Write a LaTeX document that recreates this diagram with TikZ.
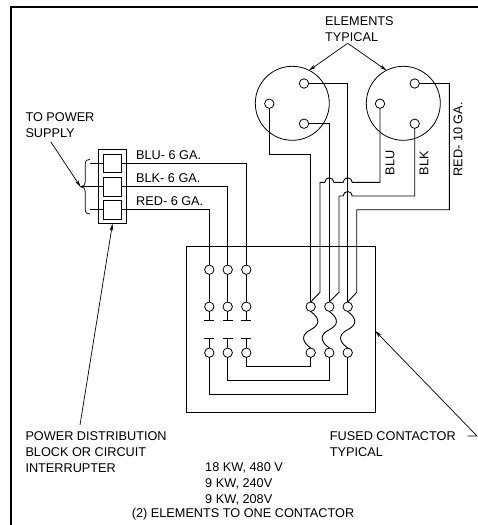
\documentclass[tikz,border=0pt]{standalone}
\usepackage{fontspec}
\setmainfont{Liberation Sans}
\usetikzlibrary{arrows.meta}

\begin{document}
\begin{tikzpicture}[
  x=1pt, y=-1pt,
  wire/.style={line width=0.9pt, line join=miter},
  term/.style={circle, draw, line width=0.8pt, inner sep=0pt, outer sep=0pt, minimum size=9.4pt},
  element/.style={circle, draw, line width=0.8pt, inner sep=0pt, outer sep=0pt, minimum size=74pt},
  box/.style={rectangle, draw, line width=0.9pt, inner sep=0pt, outer sep=0pt},
  label/.style={inner sep=0pt, anchor=west, align=left, font=\fontsize{12.7}{16}\selectfont},
  pointer/.style={line width=0.7pt, -{Stealth[length=7pt,width=3.6pt]}}
  ]

  \useasboundingbox (0,0) rectangle (478,525);
  \draw[line width=1.2pt] (11,525) -- (11,7) -- (478,7);

  % elements
  \node[element] (elemA) at (292.3,103.3) {};
  \node[element] (elemB) at (403.3,103.3) {};
  \node[term] (aTop) at (304,83.5) {};
  \node[term] (aLeft) at (269.3,103.7) {};
  \node[term] (aBot) at (304,123.7) {};
  \node[term] (bTop) at (414.7,83.5) {};
  \node[term] (bLeft) at (380,103.7) {};
  \node[term] (bBot) at (414.7,123.7) {};

  % contactor
  \node[box, minimum width=189pt, minimum height=165.6pt] (contactor) at (280.8,329.5) {};
  \foreach \n/\x in {a/209.3,b/227.7,c/246.3} {
    \node[term] (\n1) at (\x,269.7) {};
    \node[term] (\n2) at (\x,306.7) {};
    \node[term] (\n3) at (\x,352.7) {};
    \coordinate (\n bar) at (\x,320.3);
    \coordinate (\n gap) at (\x,338.7);
    \draw[wire] (\n1) -- (\n2);
    \draw[wire] (\n2) -- (\n bar);
    \draw[wire] (\n3) -- (\n gap);
    \draw[wire] (\x-5,320.3) -- (\x+5,320.3);
    \draw[wire] (\x-5,338.7) -- (\x+5,338.7);
  }
  \foreach \n/\x in {1/310.7,2/329.3,3/347.7} {
    \node[term] (top\n) at (\x,306.7) {};
    \node[term] (low\n) at (\x,352.7) {};
    \draw[wire] (top\n.south) .. controls (\x+10,319) and (\x+9,325) .. (\x,329.7)
      .. controls (\x-9,334) and (\x-10,341) .. (low\n.north);
  }

  % power block
  \node[box, minimum width=28.4pt, minimum height=74.4pt] (block) at (112.5,186.5) {};
  \node[box, minimum size=18.5pt] (bluSq) at (112.5,163.3) {};
  \node[box, minimum size=18.5pt] (blkSq) at (112.5,186.7) {};
  \node[box, minimum size=18.5pt] (redSq) at (112.5,209.7) {};

  % wires from the block
  \draw[wire] (bluSq.east) -| (c1);
  \draw[wire] (blkSq.east) -| (b1);
  \draw[wire] (redSq.east) -| (a1);
  \draw[wire] (c3) -- (246.3,366.7) -| (low1);
  \draw[wire] (b3) -- (227.7,380.3) -| (low2);
  \draw[wire] (a3) -- (209.3,394) -| (low3);

  % wires to the elements
  \draw[wire] (aLeft) -- (269.3,154) -| (top1.north);
  \draw[wire] (aBot) -| (top2.north);
  \draw[wire] (aTop) -| (top3.north);
  \draw[wire] (bLeft) -- (380,182.3) -- (352.2,182.3) arc[start angle=0, end angle=180, radius=4.5pt]
    -- (333.8,182.3) arc[start angle=0, end angle=180, radius=4.5pt]
    -- (320,182.3) -- (320,292.3) -- (top1.north);
  \draw[wire] (bBot) -- (414.7,196) -- (352.2,196) arc[start angle=0, end angle=180, radius=4.5pt]
    -- (339,196) -- (339,292.3) -- (top2.north);
  \draw[wire] (bTop) -- (449.3,83.5) -- (449.3,209.7) -- (356.7,209.7) -- (356.7,292.3) -- (top3.north);

  % brace
  \coordinate (braceTip) at (80.5,186.7);
  \coordinate (bluStub) at (90,163.3);
  \coordinate (redStub) at (90,209.7);
  \draw[line width=0.7pt] (90,159.3) .. controls (87,159.3) and (85.3,160.5) .. (85.3,164)
    -- (85.3,182) .. controls (85.3,185) and (83.5,186.7) .. (braceTip)
    .. controls (83.5,186.7) and (85.3,188.5) .. (85.3,191.5)
    -- (85.3,209.5) .. controls (85.3,213) and (87,214) .. (90,214);
  \draw[wire] (bluStub) -- (bluSq.west);
  \draw[wire] (braceTip) -- (blkSq.west);
  \draw[wire] (redStub) -- (redSq.west);

  % labels
  \node[label] (elemLbl) at (325,28.7) {ELEMENTS\\TYPICAL};
  \node[label] (pwrLbl) at (25.3,125.5) {TO POWER\\SUPPLY};
  \node[label] (bluLbl) at (136,155) {BLU- 6 GA.};
  \node[label] (blkLbl) at (136,177.7) {BLK- 6 GA.};
  \node[label] (redLbl) at (136,200.7) {RED- 6 GA.};
  \node[label, rotate=90, anchor=west] (bluTag) at (390,175.5) {BLU};
  \node[label, rotate=90, anchor=west] (blkTag) at (424,175.5) {BLK};
  \node[label, rotate=90, anchor=west] (redTag) at (458,176.7) {RED- 10 GA.};
  \node[label] (distLbl) at (25.3,452) {POWER DISTRIBUTION\\BLOCK OR CIRCUIT\\INTERRUPTER};
  \node[label] (fuseLbl) at (329.7,444.3) {FUSED CONTACTOR\\TYPICAL};
  \node[label] (ratingLbl) at (205,484) {18 KW, 480 V\\9 KW, 240V\\9 KW, 208V};
  \node[label] (noteLbl) at (131.7,514.3) {(2) ELEMENTS TO ONE CONTACTOR};

  % pointers
  \coordinate (elemApex) at (347.7,43.3);
  \coordinate (pwrTail) at (50.7,141.7);
  \coordinate (distTail) at (80,425);
  \coordinate (fuseStub) at (467.7,436);
  \coordinate (fuseBend) at (477,436);
  \draw[pointer] (elemApex) -- (elemA.63);
  \draw[pointer] (elemApex) -- (elemB.117);
  \draw[pointer] (pwrTail) -- (braceTip);
  \draw[pointer] (distTail) -- (block.south);
  \draw[pointer] (fuseStub) -- (fuseBend) -- ([yshift=-1.5pt]contactor.east);
\end{tikzpicture}
\end{document}
